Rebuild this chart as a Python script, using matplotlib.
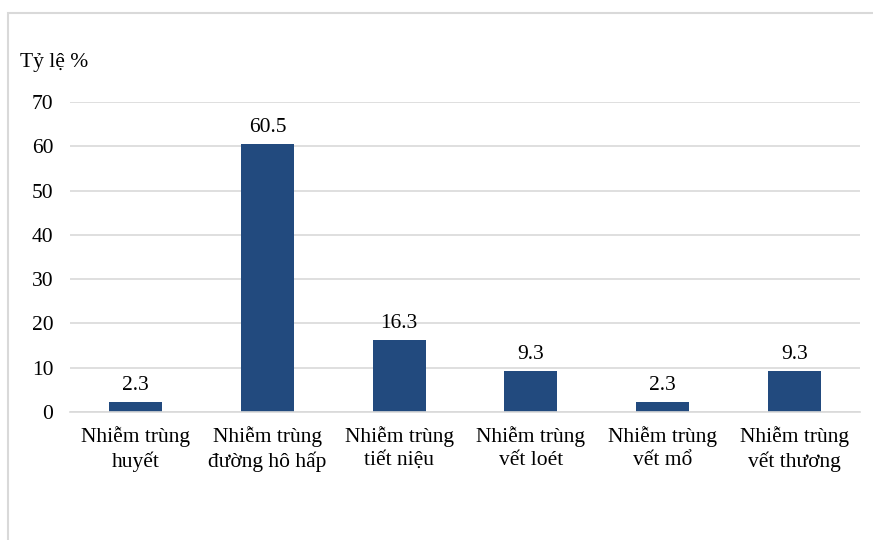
import matplotlib.pyplot as plt
from matplotlib.patches import Rectangle

categories = [
    "Nhiễm trùng\nhuyết",
    "Nhiễm trùng\nđường hô hấp",
    "Nhiễm trùng\ntiết niệu",
    "Nhiễm trùng\nvết loét",
    "Nhiễm trùng\nvết mổ",
    "Nhiễm trùng\nvết thương",
]
rates = [2.3, 60.5, 16.3, 9.3, 2.3, 9.3]
y_ticks = [0, 10, 20, 30, 40, 50, 60, 70]

plt.rcParams['font.family'] = ['Liberation Serif', 'DejaVu Serif']
FS = 15.5

W, H = 873, 540
fig = plt.figure(figsize=(W / 100, H / 100), dpi=100)

# outer chart frame (left and top edges visible)
fig.patches.append(Rectangle((8 / W, -0.1), 1.2, 1 - 13 / H + 0.1,
                             transform=fig.transFigure, fill=False,
                             edgecolor='#D9D9D9', linewidth=1.5))

ax = fig.add_axes([70 / W, (H - 412) / H, 790 / W, 310 / H])
x = range(len(categories))
bars = ax.bar(x, rates, width=0.4, color='#224A7E')

for b, v in zip(bars, rates):
    ax.annotate(f"{v}", (b.get_x() + b.get_width() / 2, v),
                xytext=(0, 5), textcoords='offset points',
                ha='center', va='bottom', fontsize=FS)

ax.set_ylim(0, 70)
ax.set_xlim(-0.5, len(categories) - 0.5)
ax.set_yticks(y_ticks)
ax.set_xticks(list(x))
ax.set_xticklabels(categories, fontsize=FS, linespacing=1.3)
ax.tick_params(axis='y', length=0, pad=12, labelsize=FS)
ax.tick_params(axis='x', length=0, pad=10)
ax.grid(axis='y', color='#D9D9D9', linewidth=1.2)
ax.set_axisbelow(True)
for s in ['top', 'right', 'left']:
    ax.spines[s].set_visible(False)
ax.spines['bottom'].set_color('#D9D9D9')
ax.spines['bottom'].set_linewidth(1.2)

fig.text(20 / W, 1 - 63 / H, "Tỷ lệ %", fontsize=FS, ha='left', va='center')

fig.savefig('out.png', dpi=100)
